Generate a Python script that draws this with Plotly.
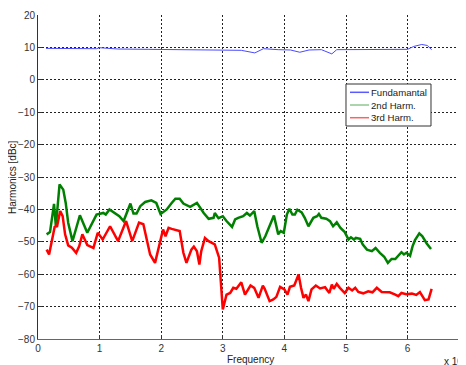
import plotly.graph_objects as go

# Fundamental (blue)
fund_x = [0.13, 0.5, 0.95, 1.0, 1.3, 1.8, 2.2, 2.6, 3.0, 3.3, 3.52, 3.66, 3.9, 4.1, 4.25, 4.4, 4.6, 4.77, 4.85, 5.2, 5.6, 6.0, 6.1, 6.23, 6.32, 6.39]
fund_y = [9.7, 9.6, 9.6, 9.9, 9.5, 9.4, 9.3, 9.4, 9.1, 9.1, 8.3, 9.6, 9.3, 9.2, 8.5, 9.2, 9.3, 8.0, 9.3, 9.3, 9.4, 9.4, 10.3, 10.9, 10.6, 9.3]

# 2nd harmonic (green)
h2_x = [0.14, 0.195, 0.26, 0.29, 0.35, 0.41, 0.45, 0.49, 0.56, 0.68, 0.8, 0.95, 1.06, 1.1, 1.16, 1.25, 1.32, 1.39, 1.46, 1.5, 1.55, 1.6, 1.66, 1.74, 1.84, 1.92, 1.99, 2.09, 2.17, 2.23, 2.3, 2.36, 2.47, 2.58, 2.69, 2.77, 2.85, 2.87, 2.93, 3.0, 3.06, 3.15, 3.2, 3.25, 3.33, 3.39, 3.44, 3.51, 3.56, 3.63, 3.69, 3.75, 3.83, 3.9, 3.94, 3.99, 4.04, 4.08, 4.13, 4.17, 4.21, 4.28, 4.33, 4.39, 4.47, 4.53, 4.56, 4.6, 4.68, 4.74, 4.79, 4.85, 4.91, 4.98, 5.04, 5.08, 5.13, 5.16, 5.23, 5.27, 5.34, 5.42, 5.48, 5.55, 5.62, 5.68, 5.74, 5.8, 5.85, 5.9, 5.94, 5.98, 6.04, 6.08, 6.12, 6.19, 6.24, 6.31, 6.38]
h2_y = [-47.7, -47.0, -38.3, -45.2, -32.3, -33.9, -38.0, -44.1, -49.8, -41.8, -47.2, -41.6, -41.1, -41.6, -40.0, -41.1, -42.1, -43.6, -40.2, -38.2, -41.3, -41.3, -39.0, -37.7, -37.2, -38.0, -41.4, -40.0, -38.0, -36.7, -36.7, -38.2, -39.2, -38.0, -41.1, -42.9, -42.6, -41.1, -42.7, -42.1, -43.6, -45.4, -43.1, -42.6, -42.1, -41.1, -41.9, -40.5, -45.2, -50.3, -48.3, -45.7, -41.9, -47.7, -46.7, -47.2, -41.6, -39.8, -41.6, -41.6, -40.1, -40.9, -42.6, -45.2, -42.6, -42.1, -41.4, -42.6, -42.9, -43.6, -45.2, -44.0, -45.7, -47.0, -49.3, -48.6, -49.3, -48.8, -49.1, -50.8, -52.4, -52.9, -51.9, -53.4, -54.6, -56.5, -55.3, -55.3, -54.3, -53.2, -53.9, -53.4, -54.3, -51.4, -49.5, -47.4, -48.3, -50.5, -52.2]

# 3rd harmonic (red)
h3_x = [0.14, 0.18, 0.24, 0.27, 0.31, 0.36, 0.4, 0.44, 0.49, 0.55, 0.62, 0.67, 0.72, 0.8, 0.9, 0.97, 1.05, 1.17, 1.3, 1.43, 1.53, 1.64, 1.71, 1.82, 1.9, 1.95, 2.03, 2.07, 2.12, 2.17, 2.3, 2.36, 2.41, 2.49, 2.53, 2.58, 2.62, 2.65, 2.71, 2.77, 2.87, 2.94, 2.97, 3.0, 3.06, 3.12, 3.17, 3.22, 3.3, 3.36, 3.45, 3.51, 3.58, 3.65, 3.68, 3.76, 3.82, 3.87, 3.93, 4.0, 4.05, 4.09, 4.16, 4.23, 4.27, 4.31, 4.35, 4.39, 4.44, 4.51, 4.58, 4.66, 4.73, 4.77, 4.8, 4.85, 4.9, 4.98, 5.04, 5.1, 5.15, 5.2, 5.28, 5.36, 5.43, 5.5, 5.58, 5.71, 5.8, 5.85, 5.9, 5.98, 6.07, 6.14, 6.2, 6.28, 6.34, 6.39]
h3_y = [-52.4, -53.9, -48.3, -45.4, -45.2, -40.5, -42.1, -47.7, -51.1, -51.8, -53.4, -51.3, -47.7, -51.0, -51.9, -47.2, -49.3, -45.2, -49.8, -43.6, -49.8, -44.1, -44.6, -53.9, -56.5, -52.4, -46.2, -48.3, -45.7, -46.0, -46.7, -53.4, -56.5, -52.4, -51.5, -52.9, -57.0, -52.9, -48.8, -49.8, -50.8, -54.9, -64.7, -70.9, -66.3, -65.8, -64.2, -64.5, -62.5, -66.3, -63.5, -64.2, -67.3, -63.5, -64.5, -68.3, -67.8, -67.0, -63.9, -64.7, -66.3, -63.9, -63.5, -60.1, -64.2, -67.3, -66.3, -68.3, -64.7, -63.5, -64.4, -64.0, -65.8, -63.2, -64.5, -63.0, -64.2, -65.8, -64.2, -65.0, -64.2, -65.5, -65.9, -65.3, -65.6, -64.2, -65.5, -65.6, -66.3, -66.8, -65.8, -66.2, -66.0, -66.4, -65.5, -68.0, -67.8, -64.5]

x_ticks = [0, 1, 2, 3, 4, 5, 6]
y_ticks = [-80, -70, -60, -50, -40, -30, -20, -10, 0, 10, 20]

names = ["Fundamantal", "2nd Harm.", "3rd Harm."]
line_colors = ["#4a4aff", "#008000", "#ff0000"]
legend_colors = ["#5a5aff", "#8fc78f", "#ff6060"]

FONT = "Liberation Sans, Arial, sans-serif"

fig = go.Figure()
for xs, ys, nm, col, w in zip([fund_x, h2_x, h3_x], [fund_y, h2_y, h3_y], names, line_colors, [1, 2.5, 2.5]):
    fig.add_trace(go.Scatter(x=xs, y=ys, mode="lines", name=nm, line=dict(color=col, width=w), showlegend=False))

axis_font = dict(family=FONT, size=10, color="#333333")
grid_style = dict(showgrid=True, gridcolor="#222222", griddash="2px,2px", gridwidth=1, zeroline=False,
                  showline=True, linewidth=1, ticks="inside", ticklen=4, tickcolor="#333333",
                  tickfont=axis_font, automargin=False)
fig.update_layout(
    width=458, height=357,
    margin=dict(l=30, r=0, t=7, b=26, autoexpand=False),
    paper_bgcolor="white", plot_bgcolor="white",
    font=axis_font,
    showlegend=False,
    xaxis=dict(range=[0, 6.948], tickvals=x_ticks, linecolor="#666666", **grid_style),
    yaxis=dict(range=[-80, 20], tickvals=y_ticks, linecolor="#333333", **grid_style),
)

# legend box (drawn in paper coordinates to match the compact MATLAB legend)
fig.add_shape(type="rect", xref="paper", yref="paper", x0=0.7196, x1=0.9182, y0=0.6574, y1=0.787,
              line=dict(color="#333333", width=1), fillcolor="white", layer="above")
row_y = [0.7614, 0.7222, 0.6830]
for nm, col, yy in zip(names, legend_colors, row_y):
    fig.add_shape(type="line", xref="paper", yref="paper", x0=0.729, x1=0.7734, y0=yy, y1=yy,
                  line=dict(color=col, width=1.5), layer="above")
    fig.add_annotation(text=nm, xref="paper", yref="paper", x=0.7726, y=yy, xanchor="left", yanchor="middle",
                       showarrow=False, font=dict(family=FONT, size=9.6, color="#222222"))

fig.add_annotation(text="Frequency", xref="paper", yref="paper", x=0.4965, y=-0.062, xanchor="center", yanchor="middle",
                   showarrow=False, font=dict(family=FONT, size=10, color="#222222"))
fig.add_annotation(text="Harmonics [dBc]", xref="paper", yref="paper", x=-0.0607, y=0.5, xanchor="center", yanchor="middle",
                   textangle=-90, showarrow=False, font=dict(family=FONT, size=10, color="#222222"))
fig.add_annotation(text="x 10<sup>4</sup>", xref="paper", yref="paper", x=0.944, y=-0.068, xanchor="left", yanchor="middle",
                   showarrow=False, font=dict(family=FONT, size=10, color="#222222"))

fig.write_html("out.html")
